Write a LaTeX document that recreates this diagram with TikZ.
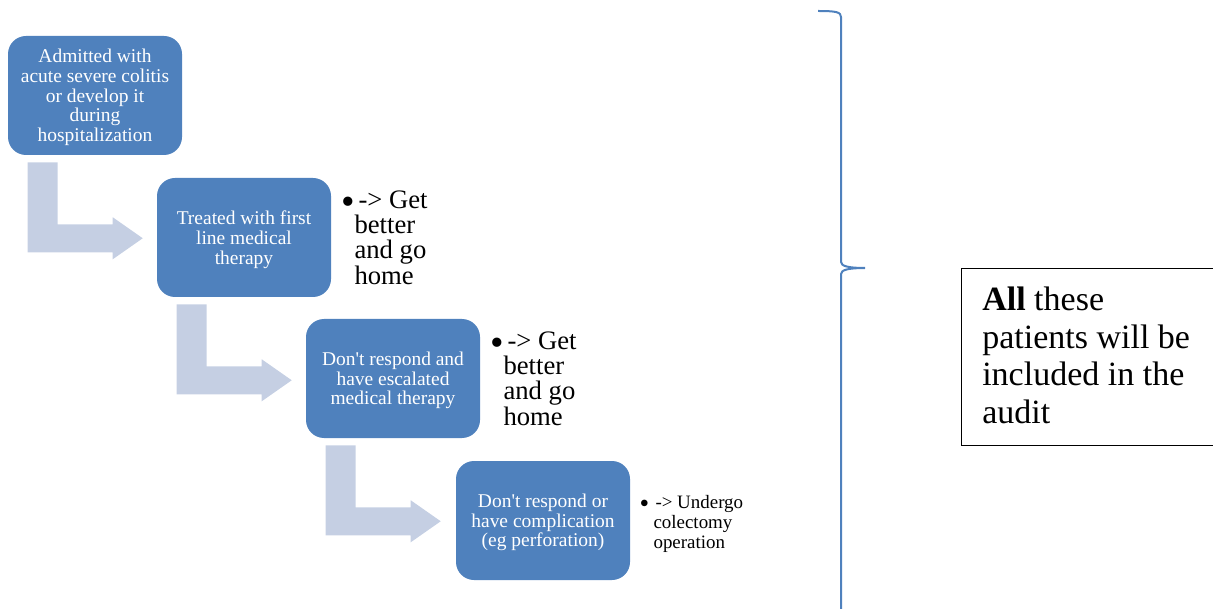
\documentclass[tikz,border=0pt]{standalone}
\usepackage{fontspec}
\usepackage{graphicx}
\setmainfont{Liberation Serif}
\usetikzlibrary{positioning,calc}
\definecolor{boxblue}{RGB}{79,129,189}
\definecolor{arrowgray}{RGB}{197,207,227}
\newdimen\pxu \pxu=0.75pt
\newcommand{\bul}{\hspace*{-2\pxu}\raisebox{-0.24em}{\scalebox{1.45}{\textbullet}}}

\begin{document}
\begin{tikzpicture}[
    x=0.75pt, y=-0.75pt,
    stage/.style={rectangle, rounded corners=13.5pt, fill=boxblue, text=white, minimum width=130.5pt, minimum height=89.25pt, inner sep=0pt, align=center, font=\fontsize{14.6}{14.8}\selectfont, text depth=-2.3pt},
    bentarrow/.style={fill=arrowgray},
    note/.style={inner sep=0pt, align=left, font=\fontsize{20}{19}\selectfont},
    smallnote/.style={note, font=\fontsize{14.2}{15.1}\selectfont}
]
\clip (0,0) rectangle (1213,609);
\useasboundingbox (0,0) rectangle (1213,609);

% Stages
\node[stage] (adm) at (95,95.5) {Admitted with\\acute severe colitis\\or develop it\\during\\hospitalization};
\node[stage] (first) at (244,237.5) {Treated with first\\line medical\\therapy};
\node[stage] (escal) at (393,378.5) {Don\textquotesingle t respond and\\have escalated\\medical therapy};
\node[stage] (compl) at (543,520.5) {Don\textquotesingle t respond or\\have complication\\(eg perforation)};

% Bent arrows
\foreach \b in {adm,first,escal}
  \fill[bentarrow] ($(\b.south west)+(20,7)$) -- ++(30,0) -- ++(0,62) -- ++(55,0) -- ++(0,-7)
    -- ++(30,21) -- ++(-30,21) -- ++(0,-7) -- ++(-85,0) -- cycle;

% Outcomes
\node[note, below right=9.3pt and 9pt of first.north east] (home1) {\makebox[11\pxu][l]{\bul}\hspace{4\pxu}-> Get\\\hspace*{11\pxu}better\\\hspace*{11\pxu}and go\\\hspace*{11\pxu}home};
\node[note, below right=9.3pt and 9pt of escal.north east] (home2) {\makebox[11\pxu][l]{\bul}\hspace{4\pxu}-> Get\\\hspace*{11\pxu}better\\\hspace*{11\pxu}and go\\\hspace*{11\pxu}home};
\node[smallnote, below right=25.5pt and 8.25pt of compl.north east] (colect) {\makebox[12\pxu][l]{\bul}\hspace{2\pxu}-> Undergo\\\hspace*{12\pxu}colectomy\\\hspace*{12\pxu}operation};

% Brace
\draw[boxblue, line width=1.5pt] (818,11) .. controls (836,11) and (841,12) .. (841,17) -- (841,262)
  .. controls (841,266) and (848,268) .. (865,268) .. controls (848,268) and (841,270) .. (841,274) -- (841,625);

% Audit note
\node[draw, line width=0.8pt, minimum width=202.5pt, minimum height=132.75pt, anchor=north west, inner sep=0pt] (frame) at (961,268) {};
\node[note, below right=14.25pt and 15.75pt of frame.north west, font=\fontsize{25.5}{28.1}\selectfont] (audit) {\textbf{All} these\\patients will be\\included in the\\audit};
\end{tikzpicture}
\end{document}
